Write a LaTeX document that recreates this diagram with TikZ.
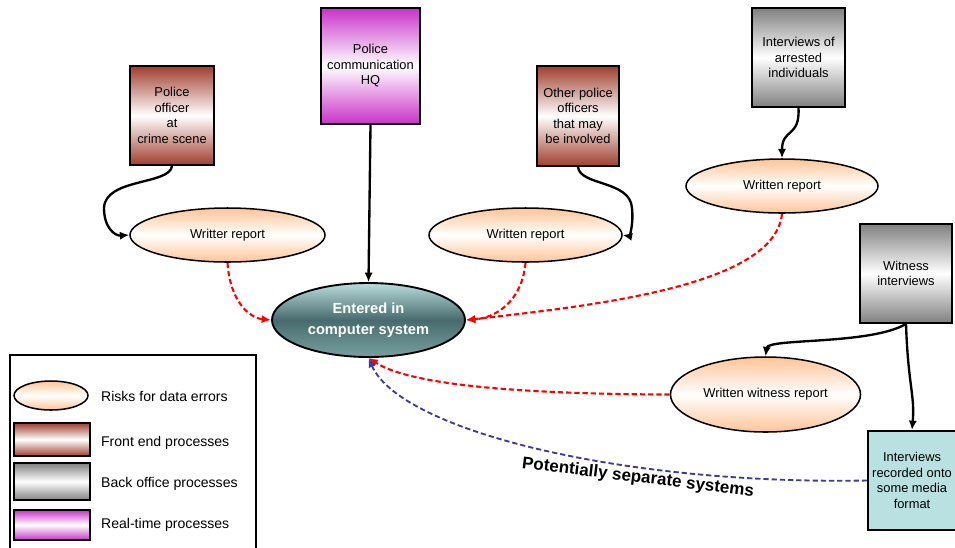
\documentclass[tikz,border=0pt]{standalone}
\usepackage{fontspec}
\setmainfont{Liberation Sans}
\usetikzlibrary{arrows.meta,shapes.geometric}

\definecolor{frontred}{RGB}{160,62,46}
\definecolor{backgray}{RGB}{128,128,128}
\definecolor{realmag}{RGB}{200,50,200}
\definecolor{peach}{RGB}{255,196,150}
\definecolor{tealtop}{RGB}{185,220,220}
\definecolor{tealmid}{RGB}{72,108,110}
\definecolor{tealbot}{RGB}{120,160,160}
\definecolor{mediacyan}{RGB}{185,225,225}
\definecolor{sepblue}{RGB}{60,60,160}

\begin{document}
\begin{tikzpicture}[x=0.03cm, y=-0.03cm,
font=\fontsize{11}{13.2}\selectfont,
proc/.style={draw, line width=1.6pt, align=center, inner sep=2pt},
front/.style={proc, top color=frontred, bottom color=frontred, middle color=white},
back/.style={proc, top color=backgray, bottom color=backgray, middle color=white},
realtime/.style={proc, top color=realmag, bottom color=realmag, middle color=white},
risk/.style={draw, ellipse, line width=1.3pt, inner sep=0pt, top color=peach, bottom color=peach, middle color=white},
flow/.style={-{Latex[length=8pt,width=7pt]}, line width=2pt},
err/.style={-{Latex[length=8pt,width=7pt]}, line width=1.8pt, red, dash pattern=on 4.5pt off 2.5pt},
sep/.style={-{Latex[length=8pt,width=7pt]}, line width=1.6pt, sepblue, dash pattern=on 4.5pt off 2.5pt}
]
\clip (0,0) rectangle (955,547);

% process boxes
\node[front, minimum width=2.52cm, minimum height=2.97cm] (officer) at (172,115.5) {Police\\officer\\at\\crime scene};
\node[realtime, minimum width=2.97cm, minimum height=3.48cm] (hq) at (370.5,66) {Police\\communication\\HQ};
\node[front, minimum width=2.46cm, minimum height=3cm] (others) at (578,116) {Other police\\officers\\that may\\be involved};
\node[back, minimum width=2.79cm, minimum height=2.97cm] (arrested) at (798.5,57.5) {Interviews of\\arrested\\individuals};
\node[back, minimum width=2.76cm, minimum height=2.97cm] (witness) at (906,273.5) {Witness\\interviews};
\node[proc, fill=mediacyan, minimum width=2.64cm, minimum height=2.97cm] (media) at (912,480.5) {Interviews\\recorded onto\\some media\\format};

% reports
\node[risk, minimum width=5.85cm, minimum height=1.62cm] (repa) at (227.5,235) {Writter report};
\node[risk, minimum width=5.79cm, minimum height=1.62cm] (repb) at (525.5,235) {Written report};
\node[risk, minimum width=5.76cm, minimum height=1.62cm] (repc) at (782,186) {Written report};
\node[risk, minimum width=5.7cm, minimum height=2.25cm] (repd) at (765.5,394.5) {Written witness report};

% computer system
\node[draw, ellipse, line width=1.6pt, inner sep=0pt, minimum width=5.79cm, minimum height=2.22cm,
  top color=tealtop, bottom color=tealbot, middle color=tealmid, align=center,
  font=\fontsize{12.5}{17.5}\selectfont\bfseries, text=white] (comp) at (368.5,320) {Entered in\\computer system};

% connectors
\draw[flow] (officer.south) .. controls (170,185) and (105,178) .. (104,208) .. controls (104,228) and (115,236) .. (repa.west);
\draw[flow] (others.south) .. controls (580,186) and (630,180) .. (632,208) .. controls (634,228) and (628,236) .. (repb.east);
\draw[flow] (hq.south) -- (comp.north);
\draw[flow] (arrested.south) .. controls (800,138) and (782,128) .. (repc.north);
\draw[flow] (witness.south) .. controls (870,345) and (768,338) .. (repd.north);
\draw[flow] (witness.south) .. controls (908,385) and (915,395) .. (media.north);

\draw[err] (repa.south) .. controls (230,302) and (250,318) .. (comp.west);
\draw[err] (repb.south) .. controls (522,302) and (495,318) .. (comp.east);
\draw[err] (repc.south) .. controls (775,285) and (600,305) .. (comp.east);
\draw[err] (repd.west) .. controls (520,394) and (410,385) .. (comp.south);
\draw[sep] (media.west) .. controls (620,485) and (400,430) .. (comp.south);

\node[font=\fontsize{14.5}{17}\selectfont\bfseries, rotate=-7] (seplabel) at (638,478) {Potentially separate systems};

% legend
\draw[line width=1.6pt] (10,550) -- (10,355) -- (256,355) -- (256,550);
\node[risk, minimum width=2.22cm, minimum height=0.87cm] (keyrisk) at (51,395.5) {};
\node[front, minimum width=2.28cm, minimum height=0.99cm] (keyfront) at (52,439.5) {};
\node[back, minimum width=2.28cm, minimum height=1.11cm] (keyback) at (52,481.5) {};
\node[realtime, minimum width=2.28cm, minimum height=0.9cm] (keyreal) at (52,525) {};
\begin{scope}[font=\fontsize{12}{14}\selectfont]
\node[anchor=west] (lrisk) at (97,396) {Risks for data errors};
\node[anchor=west] (lfront) at (97,443) {Front end processes};
\node[anchor=west] (lback) at (97,484) {Back office processes};
\node[anchor=west] (lreal) at (97,525) {Real-time processes};
\end{scope}
\end{tikzpicture}
\end{document}
